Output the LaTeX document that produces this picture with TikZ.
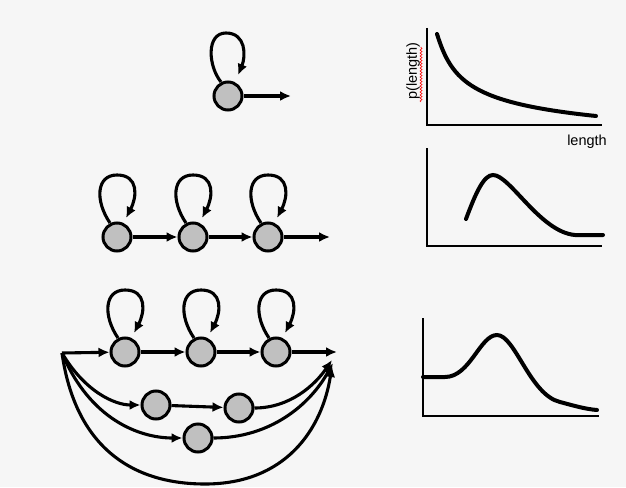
\documentclass[tikz,border=0pt]{standalone}
\usepackage{fontspec}
\setmainfont{Liberation Sans}
\usetikzlibrary{calc,arrows.meta,decorations.pathmorphing}
\definecolor{bg}{HTML}{F6F6F6}
\definecolor{nodegray}{HTML}{C0C0C0}
\tikzset{
  st/.style={circle,draw=black,line width=3pt,fill=nodegray,minimum size=28pt,inner sep=0pt},
  arr/.style={line width=3.1pt,-{Latex[length=11pt,width=10pt]}},
  crv/.style={line width=4pt,line cap=round},
  ax/.style={line width=1.3pt},
  lbl/.style={font=\fontsize{14.5}{14.5}\selectfont,inner sep=0pt}
}
\newcommand\sloop[1]{\draw[arr] ($(#1)+(-7,-14)$) .. controls ($(#1)+(-22,-36)$) and ($(#1)+(-21,-62)$) .. ($(#1)+(0,-62)$) .. controls ($(#1)+(22,-62)$) and ($(#1)+(20,-40)$) .. ($(#1)+(9,-19)$);}
\begin{document}
\begin{tikzpicture}[x=1pt,y=-1pt]
\useasboundingbox (0,0) rectangle (626,487);
\fill[bg] (0,0) rectangle (626,487);
% ---- top: single state
\node[st] (a1) at (228,96) {};
\coordinate (a1o) at (291,96);
\draw[arr] (a1) -- (a1o);
\draw[arr] ($(a1)+(-7,-14)$) .. controls ($(a1)+(-20,-30)$) and ($(a1)+(-22,-63)$) .. ($(a1)+(-2,-63)$) .. controls ($(a1)+(18,-63)$) and ($(a1)+(18,-40)$) .. ($(a1)+(10,-21)$);
% ---- middle: chain of three
\node[st] (b1) at (117,237) {};
\node[st] (b2) at (193,237) {};
\node[st] (b3) at (268,237) {};
\coordinate (b3o) at (330,237);
\draw[arr] (b1) -- (b2);
\draw[arr] (b2) -- (b3);
\draw[arr] (b3) -- (b3o);
\sloop{b1}\sloop{b2}\sloop{b3}
% ---- bottom: mixture
\coordinate (e) at (62,353);
\node[st] (c1) at (125,352) {};
\node[st] (c2) at (201,352) {};
\node[st] (c3) at (276,352) {};
\node[st] (m1) at (156,405) {};
\node[st] (m2) at (239,408) {};
\node[st] (d1) at (198,438) {};
\coordinate (c3o) at (337,352);
\coordinate (k1) at (332,360);
\coordinate (k2) at (333,363);
\coordinate (k3) at (332,366);
\draw[arr] (e) -- (c1);
\draw[arr] (c1) -- (c2);
\draw[arr] (c2) -- (c3);
\draw[arr] (c3) -- (c3o);
\sloop{c1}\sloop{c2}\sloop{c3}
\draw[arr] (e) .. controls (85,392) and (115,405) .. (m1.west);
\draw[arr] (e) .. controls (90,420) and (140,438) .. (d1.west);
\draw[arr] (m1) -- (m2);
\draw[arr] (m2.east) .. controls (290,408) and (315,385) .. (k1);
\draw[arr] (d1.east) .. controls (270,438) and (310,405) .. (k2);
\draw[arr] (e) .. controls (75,445) and (130,484) .. (205,484) .. controls (285,484) and (322,430) .. (k3);
% ---- plot 1
\draw[ax] (427,28) -- (427,125) -- (602,125);
\draw[crv] (437,34) .. controls (452,82) and (472,103) .. (596,116);
\node[lbl,rotate=90] (py) at (413,71) {p(length)};
\node[lbl] (px) at (587,142) {length};
\draw[red,line width=0.6pt,decorate,decoration={snake,amplitude=1pt,segment length=3pt}] (421,102) -- (421,47);
% ---- plot 2
\draw[ax] (427,148) -- (427,246) -- (602,246);
\draw[crv] (466,219) .. controls (476,192) and (484,175) .. (493,175) .. controls (510,175) and (540,232) .. (575,235) -- (603,235);
% ---- plot 3
\draw[ax] (423,318) -- (423,416) -- (599,416);
\draw[crv] (423,377) -- (445,377) .. controls (470,377) and (480,335) .. (497,335) .. controls (515,335) and (530,395) .. (560,402) .. controls (575,406) and (585,409) .. (597,410);
\end{tikzpicture}
\end{document}
